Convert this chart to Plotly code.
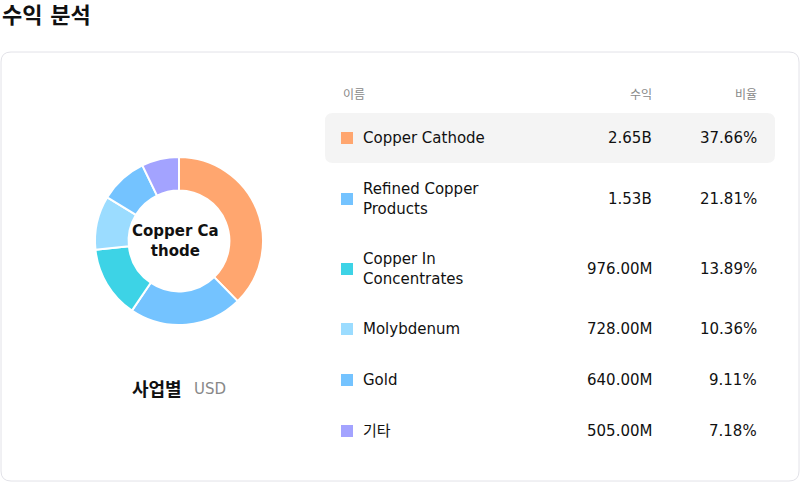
import plotly.graph_objects as go

names = ["Copper Cathode", "Refined Copper<br>Products", "Copper In<br>Concentrates", "Molybdenum", "Gold", "기타"]
labels = ["Copper Cathode", "Refined Copper Products", "Copper In Concentrates", "Molybdenum", "Gold", "기타"]
revenue = [2.65e9, 1.53e9, 976e6, 728e6, 640e6, 505e6]
revenue_text = ["2.65B", "1.53B", "976.00M", "728.00M", "640.00M", "505.00M"]
share_text = ["37.66%", "21.81%", "13.89%", "10.36%", "9.11%", "7.18%"]
colors = ["#FFA66F", "#74C3FF", "#3DD3E6", "#9BDCFF", "#74C3FF", "#A3A3FF"]
row_y = [138, 199, 269, 329, 380, 431]

W, H = 800, 482
FONT = "DejaVu Sans, Noto Sans CJK KR, sans-serif"
def py(y): return 1 - y / H
def px(x): return x / W

fig = go.Figure(go.Pie(
    labels=labels, values=revenue, hole=0.6, sort=False, direction="clockwise", rotation=0,
    marker=dict(colors=colors, line=dict(color="white", width=2)),
    textinfo="none", hoverinfo="skip", showlegend=False,
    domain=dict(x=[px(179-84), px(179+84)], y=[py(241+84), py(241-84)]),
))

def rrect(x0, y0, x1, y1, r):
    X0, X1 = px(x0), px(x1); Y0, Y1 = py(y1), py(y0)
    rx, ry = r / W, r / H
    return (f"M{X0+rx},{Y0} L{X1-rx},{Y0} Q{X1},{Y0} {X1},{Y0+ry} L{X1},{Y1-ry} Q{X1},{Y1} {X1-rx},{Y1} "
            f"L{X0+rx},{Y1} Q{X0},{Y1} {X0},{Y1-ry} L{X0},{Y0+ry} Q{X0},{Y0} {X0+rx},{Y0} Z")

shapes = [
    dict(type="path", path=rrect(1, 52, 799, 481, 10), xref="paper", yref="paper",
         line=dict(color="#E2E2E8", width=1), fillcolor="white", layer="below"),
    dict(type="path", path=rrect(325, 113, 775, 163, 8), xref="paper", yref="paper",
         line=dict(width=0), fillcolor="#F4F4F4", layer="below"),
]
ann = [
    dict(text="<b>수익 분석</b>", x=0, y=py(15), xanchor="left", font=dict(size=22, color="#111")),
    dict(text="<b>Copper Ca<br>thode</b>", x=px(175), y=py(241), font=dict(size=15, color="#111")),
    dict(text="<b>사업별</b>", x=px(184), y=py(389), xanchor="right", font=dict(size=18, color="#111")),
    dict(text="USD", x=px(192), y=py(389), xanchor="left", font=dict(size=15, color="#888")),
    dict(text="이름", x=px(341), y=py(95), xanchor="left", font=dict(size=12, color="#888")),
    dict(text="수익", x=px(654), y=py(95), xanchor="right", font=dict(size=12, color="#888")),
    dict(text="비율", x=px(759), y=py(95), xanchor="right", font=dict(size=12, color="#888")),
]
for n, c, v, s, y in zip(names, colors, revenue_text, share_text, row_y):
    shapes.append(dict(type="rect", xref="paper", yref="paper", x0=px(341), x1=px(353),
                       y0=py(y+6), y1=py(y-6), fillcolor=c, line=dict(width=0)))
    ann += [
        dict(text=n, x=px(361), y=py(y), xanchor="left", align="left", font=dict(size=15, color="#111")),
        dict(text=v, x=px(654), y=py(y), xanchor="right", font=dict(size=15, color="#111")),
        dict(text=s, x=px(759), y=py(y), xanchor="right", font=dict(size=15, color="#111")),
    ]
for a in ann:
    a.setdefault("xanchor", "center")
    a.setdefault("align", "center")
    a.update(xref="paper", yref="paper", showarrow=False, yanchor="middle")

fig.update_layout(width=W, height=H, margin=dict(l=0, r=0, t=0, b=0),
                  paper_bgcolor="white", plot_bgcolor="white", font=dict(family=FONT),
                  shapes=shapes, annotations=ann)
fig.write_html("out.html", config={"displayModeBar": False},
               post_script="document.body.style.margin='0';document.body.style.overflow='hidden';")
